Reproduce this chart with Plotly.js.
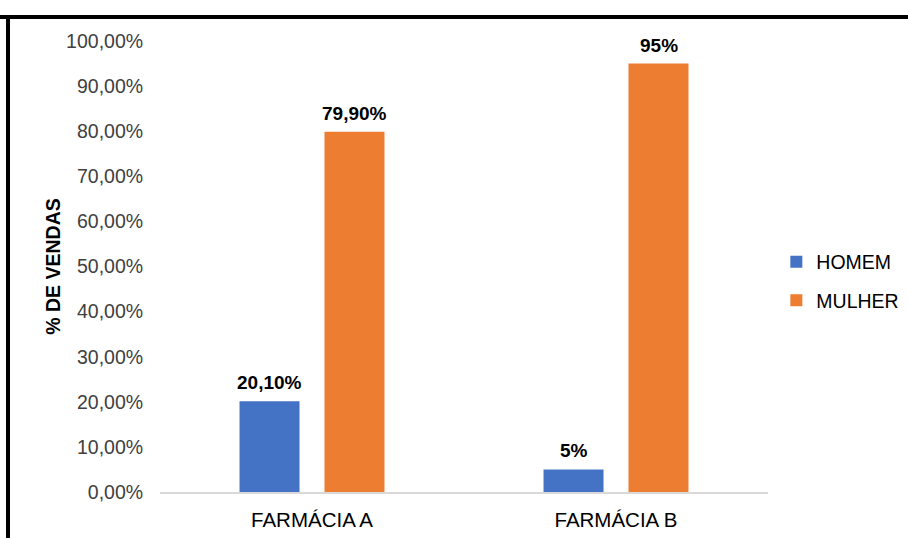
<!DOCTYPE html>
<html>
<head>
<meta charset="utf-8">
<script src="https://cdn.plot.ly/plotly-3.0.1.min.js"></script>
<style>
html,body{margin:0;padding:0;background:#fff;}
#chart{width:908px;height:538px;}
</style>
</head>
<body>
<div id="chart"></div>
<script>
const categories = ["FARMÁCIA A", "FARMÁCIA B"];
const homem = [0.201, 0.05];
const mulher = [0.799, 0.95];
const homemLabels = ["20,10%", "5%"];
const mulherLabels = ["79,90%", "95%"];
const yTickVals = [0, 0.1, 0.2, 0.3, 0.4, 0.5, 0.6, 0.7, 0.8, 0.9, 1.0];

const FONT = "Liberation Sans, Arial, sans-serif";

const traces = [
  {type: "bar", name: "HOMEM", x: categories, y: homem, marker: {color: "#4472C4"}, legendgroup: "h", hoverinfo: "skip"},
  {type: "bar", name: "MULHER", x: categories, y: mulher, marker: {color: "#ED7D31"}, legendgroup: "m", hoverinfo: "skip"}
];

const annotations = [];
categories.forEach((c, i) => {
  annotations.push({x: c, y: homem[i], text: "<b>" + homemLabels[i] + "</b>", showarrow: false, xanchor: "center", yanchor: "bottom", yshift: 6, xshift: -42.5, font: {family: FONT, size: 19, color: "#000"}});
  annotations.push({x: c, y: mulher[i], text: "<b>" + mulherLabels[i] + "</b>", showarrow: false, xanchor: "center", yanchor: "bottom", yshift: 6, xshift: 42.5, font: {family: FONT, size: 19, color: "#000"}});
});

const layout = {
  width: 908, height: 538,
  margin: {l: 160, r: 140, t: 41, b: 46},
  paper_bgcolor: "#fff", plot_bgcolor: "#fff",
  separators: ",.",
  font: {family: FONT, size: 19, color: "#404040"},
  barmode: "group",
  bargap: 0.441,
  bargroupgap: 0.294,
  showlegend: true,
  legend: {xref: "container", yref: "container", x: 0.855, y: 0.549, xanchor: "left", yanchor: "top", font: {family: FONT, size: 19.5, color: "#000"}, tracegroupgap: 10, traceorder: "grouped", bgcolor: "rgba(0,0,0,0)"},
  xaxis: {
    type: "category", showgrid: false, zeroline: false,
    showline: true, linecolor: "#d9d9d9", linewidth: 1.5,
    ticks: "outside", ticklen: 9, tickcolor: "rgba(0,0,0,0)",
    tickfont: {family: FONT, size: 20.5, color: "#000"}, fixedrange: true
  },
  yaxis: {
    range: [0, 1], tickvals: yTickVals, tickformat: ".2%",
    showgrid: false, zeroline: false, showline: false,
    ticks: "outside", ticklen: 12, tickcolor: "rgba(0,0,0,0)",
    tickfont: {family: FONT, size: 19.5, color: "#404040"},
    title: {text: "<b>% DE VENDAS</b>", font: {family: FONT, size: 19.5, color: "#000"}, standoff: 0},
    fixedrange: true
  },
  annotations: annotations,
  shapes: [
    {type: "line", xref: "paper", yref: "paper", x0: -0.27, x1: 1.25, y0: 1.0532, y1: 1.0532, line: {color: "#000", width: 4}, layer: "above"},
    {type: "line", xref: "paper", yref: "paper", x0: -0.2500, x1: -0.2500, y0: 1.0576, y1: -0.12, line: {color: "#000", width: 4}, layer: "above"}
  ]
};

Plotly.newPlot("chart", traces, layout, {displayModeBar: false, staticPlot: true});
</script>
</body>
</html>
